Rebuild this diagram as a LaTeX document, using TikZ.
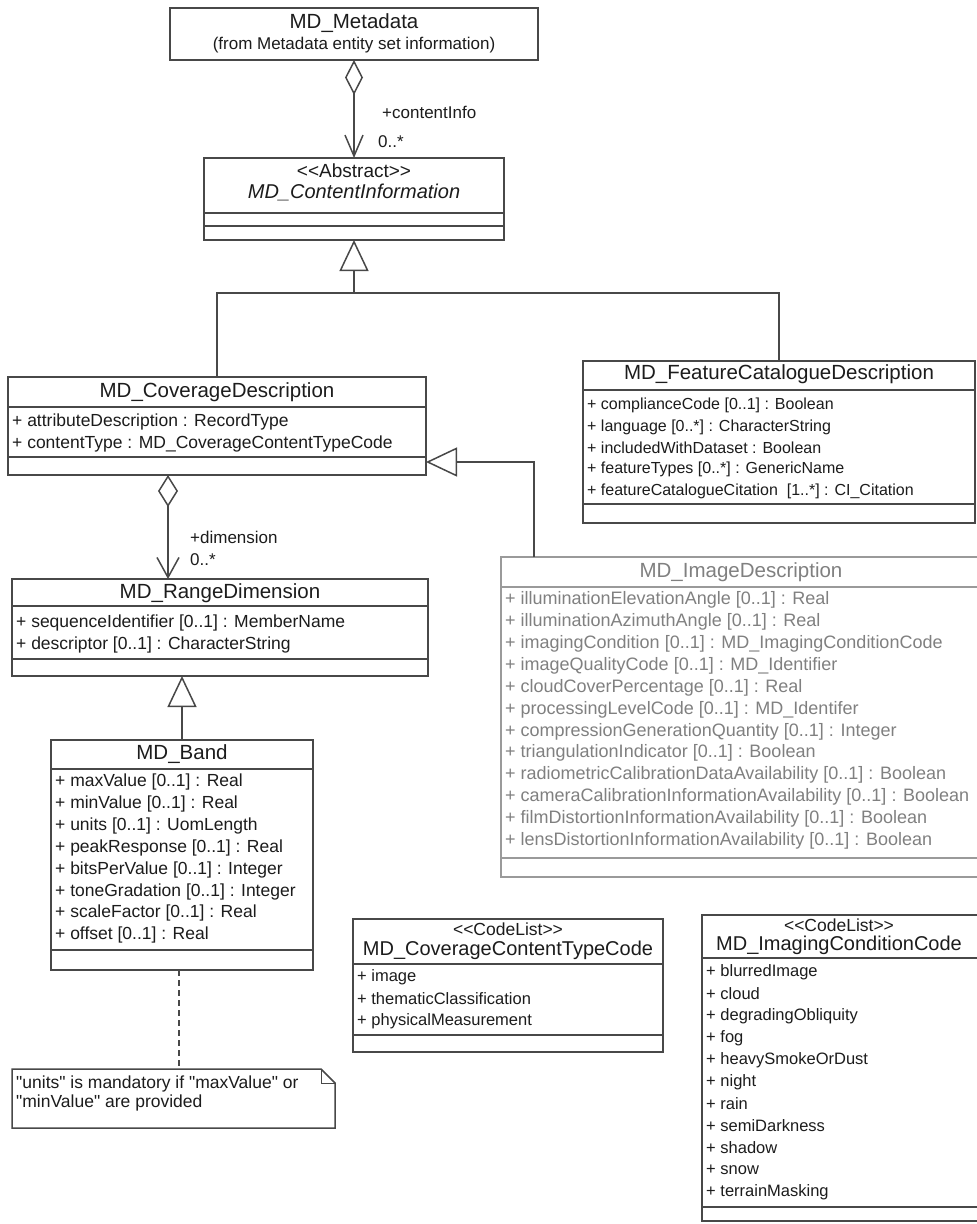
\documentclass[tikz,border=0pt]{standalone}
\usepackage{fontspec}
\newfontfamily\ls{Liberation Sans}
\usetikzlibrary{arrows.meta}
\definecolor{lc}{HTML}{484848}
\definecolor{tc}{HTML}{1C1C1C}
\definecolor{fc}{HTML}{808080}
\definecolor{flc}{HTML}{9A9A9A}
\begin{document}
\begin{tikzpicture}[x=1pt,y=-1pt,
  ln/.style={draw=lc, line width=1.5pt},
  cls/.style={ln, fill=white, inner sep=0pt, outer sep=0pt, anchor=north west},
  fcls/.style={cls, draw=flc},
  ttl/.style={font=\ls\fontsize{20.5}{24}\selectfont, text=tc, inner sep=0pt},
  cttl/.style={font=\ls\fontsize{20}{24}\selectfont, text=tc, inner sep=0pt},
  ittl/.style={font=\ls\itshape\fontsize{20}{24}\selectfont, text=tc, inner sep=0pt},
  ster/.style={font=\ls\fontsize{19}{22}\selectfont, text=tc, inner sep=0pt},
  cster/.style={font=\ls\fontsize{17.5}{21}\selectfont, text=tc, inner sep=0pt},
  sub/.style={font=\ls\fontsize{17}{20}\selectfont, text=tc, inner sep=0pt},
  att/.style={font=\ls\fontsize{17.5}{21}\selectfont, text=tc, anchor=west, inner sep=0pt},
  satt/.style={att, font=\ls\fontsize{16}{19}\selectfont},
  iatt/.style={att, font=\ls\fontsize{18}{21}\selectfont, text=fc},
  catt/.style={att, font=\ls\fontsize{16.5}{20}\selectfont},
  lbl/.style={font=\ls\fontsize{17}{20}\selectfont, text=tc, anchor=west, inner sep=0pt},
  agg/.style={ln, {Diamond[open,length=35pt,width=18pt]}-{Straight Barb[length=21pt,width=18pt]}},
  aggb/.style={ln, {Diamond[open,length=32pt,width=20pt]}-{Straight Barb[length=20pt,width=22pt]}},
  gen/.style={ln, -{Triangle[open,length=31pt,width=29pt]}},
  dsh/.style={ln, dash pattern=on 6pt off 4pt}
]
\fill[white] (0,0) rectangle (977,1224);
\useasboundingbox (0,0) rectangle (977,1224);

% ---------------- MD_Metadata
\node[cls, minimum width=368pt, minimum height=52pt] (meta) at (170,8) {};
\node[ttl] (metaT) at (354,23) {MD\_Metadata};
\node[sub] (metaS) at (354,45) {(from Metadata entity set information)};

% ---------------- MD_ContentInformation
\node[cls, minimum width=300pt, minimum height=82pt] (cinfo) at (204,158) {};
\node[ster] (cinfoS) at (354,171) {<\kern0pt<Abstract>\kern0pt>};
\node[ittl] (cinfoT) at (354,192) {MD\_ContentInformation};
\draw[ln] (cinfo.west |- 0,213) -- (cinfo.east |- 0,213);
\draw[ln] (cinfo.west |- 0,226) -- (cinfo.east |- 0,226);

\draw[agg] (meta.south) -- (cinfo.north);
\node[lbl] (ciRole) at (382,112) {+contentInfo};
\node[lbl] (ciMult) at (378,142) {0..*};

% ---------------- MD_CoverageDescription
\node[cls, minimum width=418pt, minimum height=98pt] (cov) at (8,377) {};
\node[ttl] (covT) at (217,392) {MD\_CoverageDescription};
\draw[ln] (cov.west |- 0,407) -- (cov.east |- 0,407);
\node[att] (cov1) at (12,422) {+ attributeDescription : RecordType};
\node[att] (cov2) at (12,444) {+ contentType : MD\_CoverageContentTypeCode};
\draw[ln] (cov.west |- 0,457) -- (cov.east |- 0,457);

% ---------------- MD_FeatureCatalogueDescription
\node[cls, minimum width=392pt, minimum height=162pt] (feat) at (583,361) {};
\node[ttl] (featT) at (779,374) {MD\_FeatureCatalogueDescription};
\draw[ln] (feat.west |- 0,390) -- (feat.east |- 0,390);
\node[satt] (feat1) at (587,405) {+ complianceCode [0..1] : Boolean};
\node[satt] (feat2) at (587,427) {+ language [0..*] : CharacterString};
\node[satt] (feat3) at (587,448) {+ includedWithDataset : Boolean};
\node[satt] (feat4) at (587,469) {+ featureTypes [0..*] : GenericName};
\node[satt] (feat5) at (587,491) {+ featureCatalogueCitation \ [1..*] : CI\_Citation};
\draw[ln] (feat.west |- 0,504) -- (feat.east |- 0,504);

% generalisation tree to MD_ContentInformation
\coordinate (gj) at (354,293);
\draw[gen] (cov.north) |- (gj) -- (cinfo.south);
\draw[ln] (feat.north) |- (gj);

% ---------------- MD_ImageDescription
\node[fcls, minimum width=481pt, minimum height=320pt] (img) at (501,557) {};
\node[ttl, text=fc] (imgT) at (741,572) {MD\_ImageDescription};
\draw[ln, draw=flc] (img.west |- 0,587) -- (img.east |- 0,587);
\foreach \t [count=\i] in {
  {+ illuminationElevationAngle [0..1] : Real},
  {+ illuminationAzimuthAngle [0..1] : Real},
  {+ imagingCondition [0..1] : MD\_ImagingConditionCode},
  {+ imageQualityCode [0..1] : MD\_Identifier},
  {+ cloudCoverPercentage [0..1] : Real},
  {+ processingLevelCode [0..1] : MD\_Identifer},
  {+ compressionGenerationQuantity [0..1] : Integer},
  {+ triangulationIndicator [0..1] : Boolean},
  {+ radiometricCalibrationDataAvailability [0..1] : Boolean},
  {+ cameraCalibrationInformationAvailability [0..1] : Boolean},
  {+ filmDistortionInformationAvailability [0..1] : Boolean},
  {+ lensDistortionInformationAvailability [0..1] : Boolean}}
  \node[iatt] (img\i) at (505,{600+21.9*(\i-1)}) {\t};
\draw[ln, draw=flc] (img.west |- 0,858) -- (img.east |- 0,858);

\draw[gen] (img.north -| 534,0) |- (cov.east |- 0,462);

% ---------------- MD_RangeDimension
\node[cls, minimum width=416pt, minimum height=97pt] (range) at (12,579) {};
\node[ttl] (rangeT) at (220,593) {MD\_RangeDimension};
\draw[ln] (range.west |- 0,606) -- (range.east |- 0,606);
\node[att] (range1) at (16,623) {+ sequenceIdentifier [0..1] : MemberName};
\node[att] (range2) at (16,645) {+ descriptor [0..1] : CharacterString};
\draw[ln] (range.west |- 0,659) -- (range.east |- 0,659);

\draw[aggb] (cov.south -| 168,0) -- (range.north -| 168,0);
\node[lbl] (dimRole) at (190,537) {+dimension};
\node[lbl] (dimMult) at (190,560) {0..*};

% ---------------- MD_Band
\node[cls, minimum width=262pt, minimum height=230pt] (band) at (51,740) {};
\node[ttl] (bandT) at (182,754) {MD\_Band};
\draw[ln] (band.west |- 0,769) -- (band.east |- 0,769);
\foreach \t [count=\i] in {
  {+ maxValue [0..1] : Real},
  {+ minValue [0..1] : Real},
  {+ units [0..1] : UomLength},
  {+ peakResponse [0..1] : Real},
  {+ bitsPerValue [0..1] : Integer},
  {+ toneGradation [0..1] : Integer},
  {+ scaleFactor [0..1] : Real},
  {+ offset [0..1] : Real}}
  \node[att] (band\i) at (55,{782+21.9*(\i-1)}) {\t};
\draw[ln] (band.west |- 0,950) -- (band.east |- 0,950);

\draw[gen] (band.north) -- (band.north |- range.south);

% ---------------- note
\node[inner sep=0pt, outer sep=0pt, anchor=north west, minimum width=323pt, minimum height=59pt] (note) at (12,1069) {};
\draw[ln, fill=white] (note.north west) -- ([xshift=-14pt]note.north east) -- ([yshift=-14pt]note.north east) -- (note.south east) -- (note.south west) -- cycle;
\draw[ln, line width=1pt] ([xshift=-14pt]note.north east) -- ([xshift=-14pt,yshift=-14pt]note.north east) -- ([yshift=-14pt]note.north east);
\node[att] (note1) at (16,1084) {"units" is mandatory if "maxValue" or};
\node[att] (note2) at (16,1103) {"minValue" are provided};

\draw[dsh] (band.south -| 179,0) -- (note.north -| 179,0);

% ---------------- MD_CoverageContentTypeCode
\node[cls, minimum width=310pt, minimum height=133pt] (cct) at (353,919) {};
\node[cster] (cctS) at (508,929) {<\kern0pt<CodeList>\kern0pt>};
\node[cttl] (cctT) at (508,950) {MD\_CoverageContentTypeCode};
\draw[ln] (cct.west |- 0,964) -- (cct.east |- 0,964);
\node[catt] (cct1) at (357,977) {+ image};
\node[catt] (cct2) at (357,999) {+ thematicClassification};
\node[catt] (cct3) at (357,1021) {+ physicalMeasurement};
\draw[ln] (cct.west |- 0,1035) -- (cct.east |- 0,1035);

% ---------------- MD_ImagingConditionCode
\node[cls, minimum width=278pt, minimum height=306pt] (icc) at (702,915) {};
\node[cster] (iccS) at (839,925) {<\kern0pt<CodeList>\kern0pt>};
\node[cttl] (iccT) at (839,945) {MD\_ImagingConditionCode};
\draw[ln] (icc.west |- 0,958) -- (icc.east |- 0,958);
\foreach \t [count=\i] in {blurredImage, cloud, degradingObliquity, fog,
  heavySmokeOrDust, night, rain, semiDarkness, shadow, snow, terrainMasking}
  \node[catt] (icc\i) at (706,{972+22*(\i-1)}) {+ \t};
\draw[ln] (icc.west |- 0,1207) -- (icc.east |- 0,1207);
\end{tikzpicture}
\end{document}
